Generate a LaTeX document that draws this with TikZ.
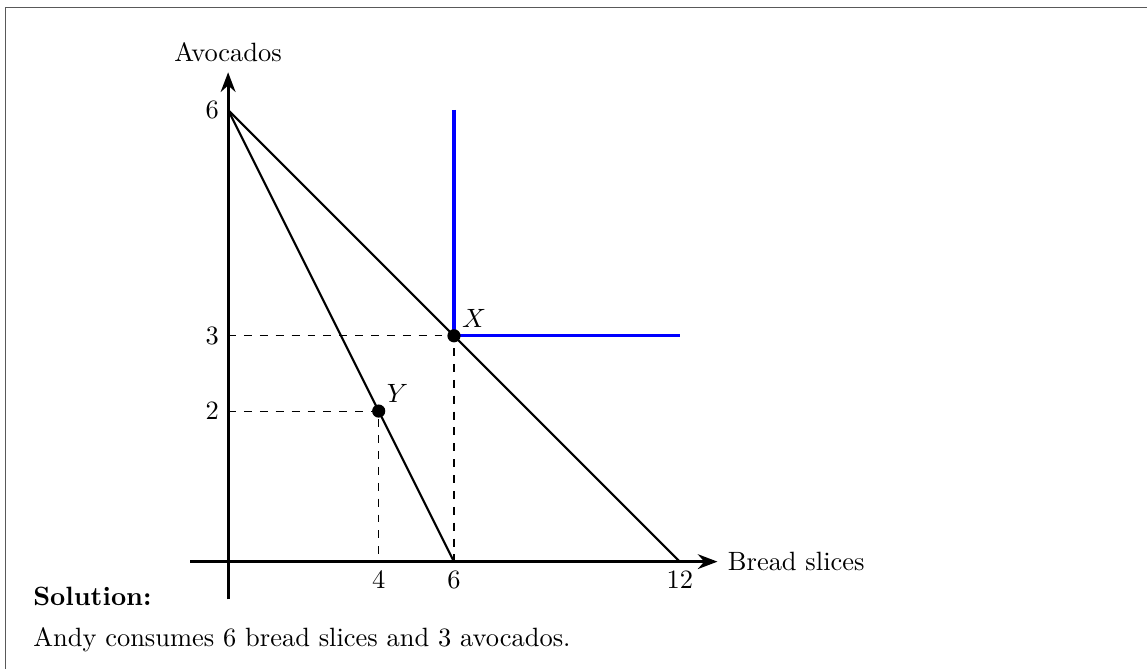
\documentclass[tikz,border=0pt]{standalone}
\usetikzlibrary{arrows.meta}
\begin{document}
\begin{tikzpicture}[
        x=0.5cm, y=1cm,
        axis/.style={very thick, -{Stealth[length=2.6mm]}},
        budget/.style={thick},
        guide/.style={dashed, thin},
        kink/.style={very thick, blue},
        dot/.style={circle, fill=black, inner sep=0pt, minimum size=1.75mm},
        every node/.style={font=\normalsize}
    ]
        \useasboundingbox (-6.06,-1.42) rectangle (24.41,7.46);
        \draw[gray!70!black, thin] (-5.92,-1.42) -- (-5.92,7.357) -- (24.41,7.357);

        % axes
        \coordinate (O) at (0,0);
        \coordinate (xs) at (-1,0);
        \coordinate (xe) at (13,0);
        \coordinate (ys) at (0,-0.5);
        \coordinate (ye) at (0,6.5);
        \draw[axis] (xs) -- (xe) node[right] (xlab) {Bread slices};
        \draw[axis] (ys) -- (ye) node[above] (ylab) {Avocados};

        % budget lines
        \coordinate (A6) at (0,6);
        \coordinate (B12) at (12,0);
        \coordinate (B6) at (6,0);
        \draw[budget] (A6) -- (B12);
        \draw[budget] (A6) -- (B6);

        % indifference curve
        \coordinate (Xpt) at (6,3);
        \coordinate (ktop) at (6,6);
        \coordinate (kright) at (12,3);
        \draw[kink] (ktop) -- (Xpt) -- (kright);

        % guides
        \coordinate (A3) at (0,3);
        \coordinate (A2) at (0,2);
        \coordinate (B4) at (4,0);
        \coordinate (Ypt) at (4,2);
        \draw[guide] (A3) -- (Xpt) -- (B6);
        \draw[guide] (A2) -- (Ypt) -- (B4);

        % ticks
        \node[left] (t6y) at (A6) {6};
        \node[left] (t3y) at (A3) {3};
        \node[left] (t2y) at (A2) {2};
        \node[below] (t4x) at (B4) {4};
        \node[below] (t6x) at (B6) {6};
        \node[below] (t12x) at (B12) {12};

        % bundles
        \node[dot] (X) at (Xpt) {};
        \node[dot] (Y) at (Ypt) {};
        \node[above right, inner sep=1pt] (Xlab) at (X.north east) {$X$};
        \node[above right, inner sep=1pt] (Ylab) at (Y.north east) {$Y$};

        \node[right, inner sep=0pt, font=\bfseries] (sol) at (-5.19,-0.465) {Solution:};
        \node[right, inner sep=0pt] (ans) at (-5.19,-1.04) {Andy consumes 6 bread slices and 3 avocados.};
    \end{tikzpicture}
\end{document}
